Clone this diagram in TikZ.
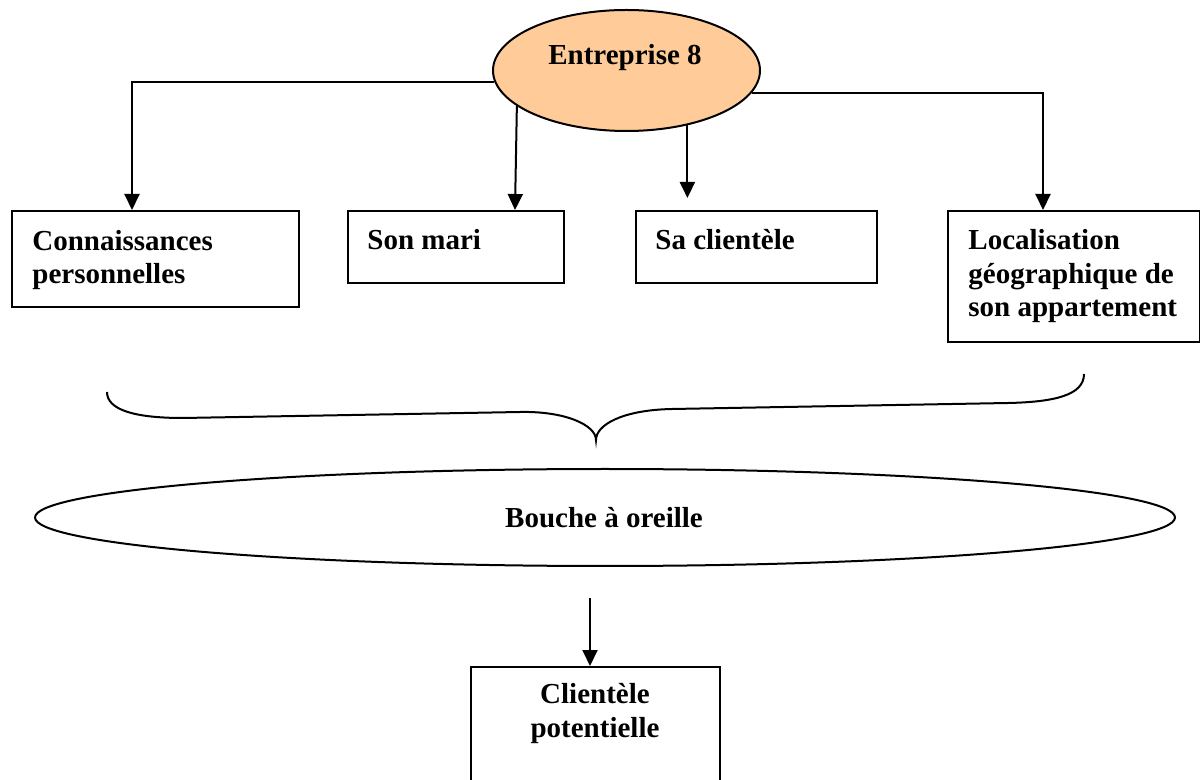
\documentclass[tikz,border=0pt]{standalone}
\usepackage{fontspec}
\setmainfont{Liberation Serif}
\usetikzlibrary{arrows.meta,shapes.geometric}
\definecolor{peach}{RGB}{255,204,153}
\begin{document}
\begin{tikzpicture}[x=0.5pt,y=-0.5pt,
  box/.style={draw,line width=1.1pt,inner sep=0,rectangle,anchor=north west},
  oval/.style={draw,ellipse,line width=1pt,inner sep=0},
  lbl/.style={font=\fontsize{14.5}{16.75}\selectfont\bfseries,inner sep=0,align=left},
  conn/.style={line width=1pt,-{Triangle[length=8pt,width=7.5pt]}},
  ]
\useasboundingbox (0,0) rectangle (1200,780);

% ellipses
\node[oval,fill=peach,minimum width=133.5pt,minimum height=60.5pt] (ent) at (626.5,70.5) {};
\node[oval,minimum width=570pt,minimum height=48.5pt] (bao) at (605,517.5) {};

% boxes
\node[box,minimum width=143.5pt,minimum height=48pt] (b1) at (11,210) {};
\node[box,minimum width=108pt,minimum height=36pt] (b2) at (347,210) {};
\node[box,minimum width=120.5pt,minimum height=36pt] (b3) at (635,210) {};
\node[box,minimum width=126pt,minimum height=65.5pt] (b4) at (947,210) {};
\node[box,minimum width=124.5pt,minimum height=75pt] (b5) at (470,666) {};

% texts (base anchor = baseline of the last line)
\node[lbl,anchor=base] (t0) at (625,65) {Entreprise 8};
\node[lbl,anchor=base west] (t1) at (32,284) {Connaissances\\personnelles};
\node[lbl,anchor=base west] (t2) at (367,250) {Son mari};
\node[lbl,anchor=base west] (t3) at (655,250) {Sa clientèle};
\node[lbl,anchor=base west] (t4) at (968,317) {Localisation\\géographique de\\son appartement};
\node[lbl,anchor=base] (t5) at (604,528) {Bouche à oreille};
\node[lbl,anchor=base,align=center] (t6) at (595,737) {Clientèle\\potentielle};

% connectors
\draw[conn] (ent.185) -| (132,0 |- b1.north);
\draw[conn] (ent.198) -- (515,0 |- b2.north);
\draw[conn,shorten >=6pt] (ent.318) -- (ent.318 |- b3.north);
\draw[conn] (ent.350) -| (1043,0 |- b4.north);
\draw[conn,shorten <=15.5pt] (590,0 |- bao.south) -- (590,0 |- b5.north);

% brace
\draw[line width=1pt] (107,392) .. controls (107,410) and (135,418) .. (183,418)
  -- (520,412) .. controls (565,411) and (596,425) .. (596,440)
  .. controls (596,425) and (622,410) .. (672,409)
  -- (1008,403) .. controls (1055,402) and (1084,395) .. (1084,374);
\end{tikzpicture}
\end{document}
